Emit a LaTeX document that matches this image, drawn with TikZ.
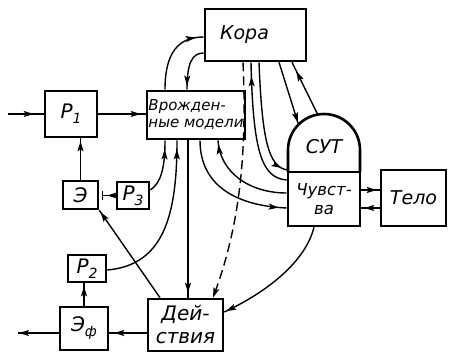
\documentclass[tikz,border=0pt]{standalone}
\usepackage{fontspec}
\setmainfont{DejaVu Sans}
\usetikzlibrary{arrows.meta,decorations.markings,calc}
\newcommand\mysub[1]{\raisebox{-5pt}{\fontsize{14}{14}\selectfont #1}}
\begin{document}
\begin{tikzpicture}[x=1pt,y=1pt,
  box/.style={draw,line width=2.6pt,inner sep=0pt,align=center},
  conn/.style={line width=1.4pt},
  ah/.style={postaction={decorate,decoration={markings,mark=at position #1 with {\arrow{Stealth[length=10pt,width=6pt,inset=2pt]}}}}},
  fA/.style={font=\fontsize{19}{22}\selectfont\itshape},
  fB/.style={font=\fontsize{15}{17}\selectfont\itshape},
  fC/.style={font=\fontsize{16.5}{19}\selectfont\itshape},
  fD/.style={font=\fontsize{20}{23}\selectfont\itshape},
  fR/.style={font=\fontsize{20}{20}\selectfont\itshape}
  ]
\useasboundingbox (0,0) rectangle (449,353);
% boxes
\node[box,fA,minimum width=101pt,minimum height=52pt] (kora) at (255.5,318) {Кора\hspace{22pt}};
\node[box,fR,minimum width=52pt,minimum height=46pt] (p1) at (71,239) {Р\mysub{1}};
\node[box,fB,align=left,minimum width=98pt,minimum height=48pt] (vm) at (196,238) {Врожден-\\ные модели};
\node[box,fC,minimum width=72pt,minimum height=54pt] (ch) at (324,154) {Чувст-\\ва};
\draw[line width=2.6pt] (288,181) -- (288,203) arc[start angle=180,end angle=0,radius=36pt] -- (360,181);
\node[fA] (sut) at (324,206) {СУТ};
\node[box,fA,minimum width=65pt,minimum height=56pt] (telo) at (413.5,155) {Тело};
\node[box,fR,minimum width=35pt,minimum height=28pt] (e) at (80.5,158) {Э};
\node[box,fR,minimum width=32pt,minimum height=27pt] (p3) at (133,157.5) {Р\mysub{3}};
\node[box,fR,minimum width=38pt,minimum height=27pt] (p2) at (87,84.5) {Р\mysub{2}};
\node[box,fR,minimum width=48pt,minimum height=43pt] (ef) at (84,24.5) {Э\mysub{ф}};
\node[box,fD,minimum width=75pt,minimum height=52pt] (d) at (185.5,28) {Дей-\\ствия};
% free ends and dome points
\coordinate (in) at (8,239);
\coordinate (out) at (18,20);
\coordinate (tee) at (102,157.5);
\coordinate (dA) at (298.5,228.5);
\coordinate (dB) at (317.7,238.5);
\coordinate (dC) at (288,183);
% connectors
\draw[conn,ah=-10pt] (in) -- (p1.west);
\draw[conn,ah=-5pt] (p1.east) -- (p1.east -| vm.west);
\draw[conn,ah=-3pt] (e.north) -- (e.north |- p1.south);
\draw[conn,-{Bar[width=9pt]},ah=-5pt] (p3.west) -- (tee);
\draw[conn,ah=-9pt] (p3.east |- 0,163) .. controls (161,170) and (165,185) .. (165,0 |- vm.south);
\draw[conn,ah=-9pt] (p2.east |- 0,83) .. controls (165,88) and (177,140) .. (177,0 |- vm.south);
\draw[conn,ah=-5pt] (188,0 |- vm.south) -- (188,0 |- d.north);
\draw[conn,ah=-2pt] (160,0 |- d.north) -- (e.south east);
\draw[conn,ah=-5pt] (d.west |- 0,20) -- (ef.east |- 0,20);
\draw[conn,ah=-1pt] (ef.west |- 0,20) -- (out);
\draw[conn,ah=-3pt] (84,0 |- ef.north) -- (84,0 |- p2.south);
\draw[conn,ah=-8pt] (165,0 |- vm.north) .. controls (165,300) and (178,316) .. (kora.west |- 0,316);
\draw[conn,ah=-4pt] (kora.west |- 0,300) .. controls (192,300) and (187,290) .. (187,0 |- vm.north);
\draw[conn,ah=-2pt] (279,0 |- kora.south) -- (dA);
\draw[conn,ah=-10pt] (dB) -- (292,0 |- kora.south);
\draw[conn,ah=-14pt] (ch.west |- 0,173) .. controls (262,175) and (253,200) .. (251,0 |- kora.south);
\draw[conn,ah=-7pt] (259,0 |- kora.south) .. controls (262,215) and (268,185) .. (dC);
\draw[conn,ah=-8pt] (200,0 |- vm.south) .. controls (200,165) and (240,147) .. (ch.west |- 0,145);
\draw[conn,ah=-4pt] (ch.west |- 0,160) .. controls (250,160) and (220,180) .. (218,0 |- vm.south);
\draw[conn,dash pattern=on 9pt off 5pt,-{Stealth[length=10pt,width=6pt,inset=2pt]}] (243,0 |- kora.south) .. controls (247,200) and (240,130) .. (213,0 |- d.north);
\draw[conn,ah=-2pt] (314,0 |- ch.south) .. controls (305,90) and (265,60) .. (d.east |- 0,41);
\draw[conn,ah=-3pt] (ch.east |- 0,163) -- (telo.west |- 0,163);
\draw[conn,ah=-3pt] (telo.west |- 0,145) -- (ch.east |- 0,145);
\end{tikzpicture}
\end{document}
